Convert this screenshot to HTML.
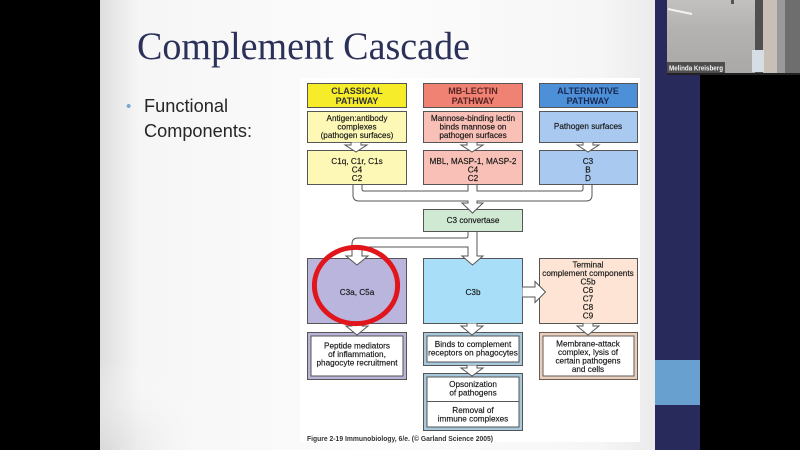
<!DOCTYPE html>
<html><head><meta charset="utf-8">
<style>
html,body{margin:0;padding:0;background:#000;width:800px;height:450px;overflow:hidden}
svg{display:block}
.b{font-family:"Liberation Sans",Arial,sans-serif;font-size:8.2px;fill:#151515;stroke:#151515;stroke-width:0.15;text-anchor:middle}
.h{font-family:"Liberation Sans",Arial,sans-serif;font-size:9px;font-weight:bold;text-anchor:middle}
</style></head><body>
<svg width="800" height="450" viewBox="0 0 800 450" xmlns="http://www.w3.org/2000/svg">
<defs>
<linearGradient id="sg" x1="0" y1="0" x2="1" y2="0">
<stop offset="0" stop-color="#dedede"/>
<stop offset="0.07" stop-color="#f6f6f6"/>
<stop offset="0.5" stop-color="#fcfcfc"/>
<stop offset="0.9" stop-color="#f6f6f6"/>
<stop offset="1" stop-color="#ebebeb"/>
</linearGradient>
<radialGradient id="corner" cx="0" cy="1" r="1">
<stop offset="0" stop-color="#d8d8d8" stop-opacity="0.8"/>
<stop offset="1" stop-color="#ffffff" stop-opacity="0"/>
</radialGradient>
<linearGradient id="vg" x1="0" y1="0" x2="0" y2="1">
<stop offset="0" stop-color="#c2c1bf"/>
<stop offset="0.4" stop-color="#b3b2b0"/>
<stop offset="1" stop-color="#a9a8a6"/>
</linearGradient>
</defs>
<rect x="0" y="0" width="800" height="450" fill="#000"/>
<!-- slide -->
<rect x="100" y="0" width="555" height="450" fill="url(#sg)"/>
<rect x="100" y="360" width="120" height="90" fill="url(#corner)"/>
<!-- navy strip -->
<rect x="655" y="0" width="45" height="450" fill="#282a5b"/>
<rect x="655" y="360" width="45" height="45" fill="#68a0d0"/>
<rect x="700" y="75" width="100" height="375" fill="#000"/>
<!-- video -->
<rect x="667" y="0" width="133" height="75" fill="url(#vg)"/>
<line x1="668" y1="9" x2="692" y2="14" stroke="#f2f2f2" stroke-width="2"/>
<rect x="731" y="0" width="3" height="4" fill="#555"/>
<rect x="755" y="0" width="8" height="75" fill="#505050"/>
<rect x="763" y="0" width="14" height="75" fill="#c8c0b7"/>
<rect x="777" y="0" width="8" height="75" fill="#9a9a9a"/>
<rect x="785" y="0" width="15" height="75" fill="#6e6e6e"/>
<rect x="752" y="50" width="12" height="22" fill="#d6dde4"/>
<rect x="667" y="62" width="58" height="11" fill="#4e4e4e"/>
<text x="669" y="70.5" font-family="Liberation Sans,Arial,sans-serif" font-size="7" font-weight="bold" fill="#f4f4f4" textLength="54" lengthAdjust="spacingAndGlyphs">Melinda Kreisberg</text>
<rect x="667" y="73" width="133" height="2" fill="#222"/>

<!-- title -->
<text x="137" y="59" font-family="Liberation Serif,serif" font-size="39" fill="#2b3158" textLength="333" lengthAdjust="spacingAndGlyphs">Complement Cascade</text>
<text x="126" y="111" font-family="Liberation Sans,sans-serif" font-size="15" fill="#7aa6d2">•</text>
<text x="144" y="112" font-family="Liberation Sans,sans-serif" font-size="18.5" fill="#262626" textLength="84" lengthAdjust="spacingAndGlyphs">Functional</text>
<text x="144" y="137" font-family="Liberation Sans,sans-serif" font-size="18.5" fill="#262626" textLength="108" lengthAdjust="spacingAndGlyphs">Components:</text>

<!-- diagram background -->
<rect x="300" y="78" width="340" height="364" fill="#ffffff"/>

<g stroke="#555" stroke-width="1">
<!-- headers -->
<rect x="307.5" y="83.5" width="99" height="24" fill="#f6ec2a"/>
<rect x="423.5" y="83.5" width="99" height="24" fill="#ef8272"/>
<rect x="539.5" y="83.5" width="98" height="24" fill="#4d90d8"/>
<!-- row 2 -->
<rect x="307.5" y="111.5" width="99" height="31" fill="#fdf8b6"/>
<rect x="423.5" y="111.5" width="99" height="31" fill="#f8c0b6"/>
<rect x="539.5" y="111.5" width="98" height="31" fill="#a9c9f0"/>
<!-- row 3 -->
<rect x="307.5" y="150.5" width="99" height="34" fill="#fdf8b6"/>
<rect x="423.5" y="150.5" width="99" height="34" fill="#f8c0b6"/>
<rect x="539.5" y="150.5" width="98" height="34" fill="#a9c9f0"/>
<!-- arrows row2->row3 -->
<path d="M351,142.5 V145 H345 L356,152 L367,145 H361 V142.5" fill="#fff"/>
<path d="M467,142.5 V145 H461 L472,152 L483,145 H477 V142.5" fill="#fff"/>
<path d="M583,142.5 V145 H577 L588,152 L599,145 H593 V142.5" fill="#fff"/>
<!-- C3 convertase -->
<rect x="423.5" y="209.5" width="99" height="22" fill="#d0e9d3"/>
<!-- top pipe -->
<path d="M353,184.5 V195 Q353,201 359,201 H468 V203 H462 L472.5,213 L483,203 H477 V201 H586 Q592,201 592,195 V184.5 H583 V189 Q583,191 581,191 H477 V184.5 H468 V191 H364 Q362,191 362,189 V184.5 Z" fill="#fff"/>
<!-- row 4 -->
<rect x="307.5" y="258.5" width="99" height="65" fill="#bab5dd"/>
<rect x="423.5" y="258.5" width="99" height="65" fill="#a8def8"/>
<rect x="539.5" y="258.5" width="98" height="65" fill="#fde4d4"/>
<!-- lower pipe -->
<path d="M468,231.5 V236 Q468,238 466,238 H358 Q352,238 352,244 V256 H346 L357,265 L368,256 H362 V249 Q362,247 364,247 H468 V256 H462 L472.5,265 L483,256 H477 V231.5 Z" fill="#fff"/>
<!-- right arrow -->
<path d="M522.5,287 H535 V281.5 L545.5,292 L535,302.5 V297 H522.5" fill="#fff"/>
<!-- row 5 double boxes -->
<rect x="307.5" y="332.5" width="99" height="47" fill="#b8b5d8"/>
<rect x="311" y="336" width="92" height="40" fill="#fff"/>
<rect x="423.5" y="332.5" width="99" height="33" fill="#a8c8dc"/>
<rect x="427" y="336" width="92" height="26" fill="#fff"/>
<rect x="423.5" y="373.5" width="99" height="57" fill="#a8c8dc"/>
<rect x="427" y="377" width="92" height="50" fill="#fff"/>
<line x1="427" y1="401.5" x2="519" y2="401.5"/>
<rect x="539.5" y="332.5" width="98" height="47" fill="#e6d0c0" stroke="#6a5a50"/>
<rect x="543" y="336" width="91" height="40" fill="#fff" stroke="#6a5a50"/>
<!-- arrows row4->row5 -->
<path d="M352,323.5 V326 H346 L357,335 L368,326 H362 V323.5" fill="#fff"/>
<path d="M467,323.5 V326 H461 L472,335 L483,326 H477 V323.5" fill="#fff"/>
<path d="M583,323.5 V326 H577 L588,335 L599,326 H593 V323.5" fill="#fff"/>
<path d="M467,365.5 V368 H461 L472,376 L483,368 H477 V365.5" fill="#fff"/>
</g>

<!-- header text -->
<text class="h" x="357" y="94" fill="#333">CLASSICAL</text>
<text class="h" x="357" y="104" fill="#333">PATHWAY</text>
<text class="h" x="473" y="94" fill="#5a2424">MB-LECTIN</text>
<text class="h" x="473" y="104" fill="#5a2424">PATHWAY</text>
<text class="h" x="588" y="94" fill="#1a2850">ALTERNATIVE</text>
<text class="h" x="588" y="104" fill="#1a2850">PATHWAY</text>

<!-- row 2 text -->
<text class="b" x="357" y="121">Antigen:antibody</text>
<text class="b" x="357" y="129.5">complexes</text>
<text class="b" x="357" y="138">(pathogen surfaces)</text>
<text class="b" x="473" y="121">Mannose-binding lectin</text>
<text class="b" x="473" y="129.5">binds mannose on</text>
<text class="b" x="473" y="138">pathogen surfaces</text>
<text class="b" x="588" y="129">Pathogen surfaces</text>

<!-- row 3 text -->
<text class="b" x="357" y="164">C1q, C1r, C1s</text>
<text class="b" x="357" y="172.5">C4</text>
<text class="b" x="357" y="181">C2</text>
<text class="b" x="473" y="164">MBL, MASP-1, MASP-2</text>
<text class="b" x="473" y="172.5">C4</text>
<text class="b" x="473" y="181">C2</text>
<text class="b" x="588" y="164">C3</text>
<text class="b" x="588" y="172.5">B</text>
<text class="b" x="588" y="181">D</text>

<text class="b" x="473" y="223">C3  convertase</text>

<!-- row 4 text -->
<text class="b" x="357" y="295">C3a,  C5a</text>
<text class="b" x="473" y="295">C3b</text>
<text class="b" x="588" y="267.5">Terminal</text>
<text class="b" x="588" y="276">complement components</text>
<text class="b" x="588" y="284.5">C5b</text>
<text class="b" x="588" y="293">C6</text>
<text class="b" x="588" y="301.5">C7</text>
<text class="b" x="588" y="310">C8</text>
<text class="b" x="588" y="318.5">C9</text>

<!-- row 5 text -->
<text class="b" x="357" y="348.5">Peptide mediators</text>
<text class="b" x="357" y="357">of inflammation,</text>
<text class="b" x="357" y="365.5">phagocyte recruitment</text>
<text class="b" x="473" y="347">Binds to complement</text>
<text class="b" x="473" y="355.5">receptors on phagocytes</text>
<text class="b" x="473" y="387">Opsonization</text>
<text class="b" x="473" y="395.5">of pathogens</text>
<text class="b" x="473" y="413">Removal of</text>
<text class="b" x="473" y="421.5">immune complexes</text>
<text class="b" x="588" y="346.5">Membrane-attack</text>
<text class="b" x="588" y="355">complex, lysis of</text>
<text class="b" x="588" y="363.5">certain pathogens</text>
<text class="b" x="588" y="372">and cells</text>

<!-- caption -->
<text x="307" y="441" font-family="Liberation Sans,Arial,sans-serif" font-size="7" font-weight="bold" fill="#333" textLength="186" lengthAdjust="spacingAndGlyphs">Figure 2-19  Immunobiology, 6/e. (© Garland Science 2005)</text>

<!-- red circle -->
<ellipse cx="356" cy="285.5" rx="41.6" ry="38.1" fill="none" stroke="#e0161c" stroke-width="5"/>
</svg>
</body></html>
